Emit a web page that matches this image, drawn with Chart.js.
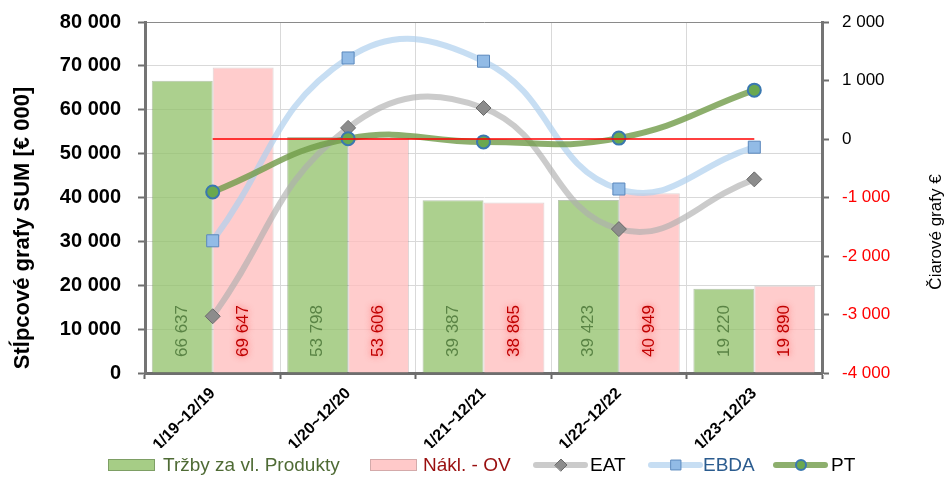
<!DOCTYPE html>
<html><head><meta charset="utf-8">
<script src="https://cdn.jsdelivr.net/npm/chart.js@4"></script>
<style>html,body{margin:0;padding:0;background:#fff;}#wrap{width:948px;height:478px;}</style>
</head><body><div id="wrap"><canvas id="c" width="948" height="478"></canvas></div>
<script>
const categories = ['1/19~12/19','1/20~12/20','1/21~12/21','1/22~12/22','1/23~12/23'];
const trzby  = [66637, 53798, 39387, 39423, 19220];
const naklOV = [69647, 53606, 38865, 40949, 19890];
const eat    = [-3030, 190, 530, -1540, -690];
const ebda   = [-1740, 1385, 1330, -855, -140];
const pt     = [-905, 5, -50, 15, 835];
const zeroLine = [0, 0, 0, 0, 0];
const leftTickValues  = [0, 10000, 20000, 30000, 40000, 50000, 60000, 70000, 80000];
const rightTickValues = [-4000, -3000, -2000, -1000, 0, 1000, 2000];

const FONT = '"Liberation Sans", Arial, sans-serif';
Chart.defaults.font.family = FONT;

function fmt(n){
  const s = Math.abs(Math.round(n)).toString().replace(/\B(?=(\d{3})+(?!\d))/g, '\u00a0');
  return (n < 0 ? '-' : '') + s;
}
function noPad(s){ s.paddingTop = 0; s.paddingBottom = 0; s.paddingLeft = 0; s.paddingRight = 0; }

const legendStyle = [
  {kind:'box', fill:'rgba(144,192,104,0.8)', stroke:'rgba(100,130,80,0.6)', text:'#4f6b35', sx:108, tx:163},
  {kind:'box', fill:'rgba(255,187,187,0.8)', stroke:'rgba(170,140,140,0.5)', text:'#990f0f', sx:370, tx:423},
  {kind:'line', text:'#000000', sx:533, tx:590},
  {kind:'line', text:'#2b5c8f', sx:648, tx:703},
  {kind:'line', text:'#000000', sx:773, tx:831}
];

const extras = {
  id:'extras',
  afterDatasetDraw(chart, args){
    const ds = chart.data.datasets[args.index];
    if (ds.type !== 'bar') return;
    const ctx = chart.ctx;
    const base = chart.scales.y.getPixelForValue(0);
    args.meta.data.forEach((bar, j) => {
      ctx.save();
      ctx.translate(bar.x, base - 16);
      ctx.rotate(-Math.PI/2);
      ctx.font = '17px ' + FONT;
      ctx.textAlign = 'left';
      ctx.textBaseline = 'middle';
      if (args.index === 1) {
        ctx.shadowColor = 'rgba(255,40,40,0.75)';
        ctx.shadowBlur = 6;
        ctx.fillStyle = '#c00000';
      } else {
        ctx.fillStyle = '#5a8445';
      }
      ctx.fillText(fmt(ds.data[j]), 0, 0);
      ctx.restore();
    });
  },
  afterDraw(chart){
    const ctx = chart.ctx;
    // axis titles
    ctx.save();
    ctx.fillStyle = '#000';
    ctx.font = 'bold 22px ' + FONT;
    ctx.translate(23, 228);
    ctx.rotate(-Math.PI/2);
    ctx.textAlign = 'center'; ctx.textBaseline = 'middle';
    ctx.fillText('Stĺpcové grafy SUM [€ 000]', 0, 0);
    ctx.restore();
    ctx.save();
    ctx.fillStyle = '#000';
    ctx.font = '17px ' + FONT;
    ctx.translate(936, 232);
    ctx.rotate(-Math.PI/2);
    ctx.textAlign = 'center'; ctx.textBaseline = 'middle';
    ctx.fillText('Čiarové grafy €', 0, 0);
    ctx.restore();
    // legend
    const y = 465;
    for (let i = 0; i < 5; i++) {
      const ds = chart.data.datasets[i];
      const st = legendStyle[i];
      ctx.save();
      if (st.kind === 'box') {
        ctx.fillStyle = st.fill; ctx.fillRect(st.sx, y - 6, 47, 12);
        ctx.strokeStyle = st.stroke; ctx.lineWidth = 1; ctx.strokeRect(st.sx + 0.5, y - 5.5, 46, 11);
      } else {
        ctx.strokeStyle = ds.borderColor; ctx.lineWidth = 6; ctx.lineCap = 'round';
        ctx.beginPath(); ctx.moveTo(st.sx + 3, y); ctx.lineTo(st.sx + 52, y); ctx.stroke();
        ctx.fillStyle = ds.pointBackgroundColor; ctx.strokeStyle = ds.pointBorderColor; ctx.lineWidth = ds.pointBorderWidth;
        Chart.helpers.drawPoint(ctx, {pointStyle: ds.pointStyle, radius: ds.pointRadius - 1.5, borderWidth: ds.pointBorderWidth, rotation: 0}, st.sx + 28, y);
      }
      ctx.font = '19px ' + FONT;
      ctx.textBaseline = 'middle';
      ctx.fillStyle = st.text;
      ctx.textAlign = 'left';
      ctx.fillText(ds.label, st.tx, y + 1);
      ctx.restore();
    }
  }
};

new Chart(document.getElementById('c'), {
  type: 'bar',
  data: {
    labels: categories,
    datasets: [
      {type:'bar', label:'Tržby za vl. Produkty', data:trzby, yAxisID:'y', order:10,
       backgroundColor:'rgba(144,192,104,0.75)', borderColor:'rgba(100,130,80,0.45)',
       borderWidth:{left:1,right:1,top:1,bottom:0}, categoryPercentage:0.9, barPercentage:1.0},
      {type:'bar', label:'Nákl. - OV', data:naklOV, yAxisID:'y', order:10,
       backgroundColor:'rgba(255,187,187,0.75)', borderColor:'rgba(170,140,140,0.35)',
       borderWidth:{left:1,right:1,top:1,bottom:0}, categoryPercentage:0.9, barPercentage:1.0},
      {type:'line', label:'EAT', data:eat, yAxisID:'y1', order:4, tension:0.45,
       borderColor:'rgba(175,175,175,0.65)', borderWidth:6,
       pointStyle:'rectRot', pointRadius:7.5, pointBackgroundColor:'#8c8c8c', pointBorderColor:'#6a6a6a', pointBorderWidth:1},
      {type:'line', label:'EBDA', data:ebda, yAxisID:'y1', order:3, tension:0.45,
       borderColor:'rgba(175,208,238,0.7)', borderWidth:6,
       pointStyle:'rect', pointRadius:8.5, pointBackgroundColor:'#92bbe6', pointBorderColor:'#5a88bd', pointBorderWidth:1},
      {type:'line', label:'PT', data:pt, yAxisID:'y1', order:2, tension:0.45,
       borderColor:'rgba(112,155,72,0.8)', borderWidth:6,
       pointStyle:'circle', pointRadius:6.5, pointBackgroundColor:'#6aa84f', pointBorderColor:'#3a78b0', pointBorderWidth:2},
      {type:'line', label:'0', data:zeroLine, yAxisID:'y1', order:1, tension:0,
       borderColor:'#ff0000', borderWidth:1.5, pointRadius:0}
    ]
  },
  options: {
    responsive:false, animation:false,
    layout:{padding:{top:22, bottom:30, left:0, right:0}},
    plugins:{legend:{display:false}, tooltip:{enabled:false}},
    scales:{
      x:{
        afterFit(s){ s.height = 75; noPad(s); },
        grid:{color:'#d9d9d9', tickLength:6, tickColor:'#666', tickWidth:2},
        border:{color:'#6e6e6e', width:3},
        ticks:{color:'#000', font:{size:16, weight:'bold'}, minRotation:45, maxRotation:45, padding:5, autoSkip:false}
      },
      y:{
        position:'left', min:0, max:80000,
        afterFit(s){ s.width = 145; noPad(s); },
        afterBuildTicks(s){ s.ticks = leftTickValues.map(v => ({value:v})); },
        grid:{color:(c)=> c.tick && c.tick.value === 80000 ? '#8a8a8a' : '#d9d9d9', tickLength:7, tickColor:'#6e6e6e', tickWidth:2},
        border:{color:'#747474', width:3},
        ticks:{color:'#000', font:{size:20, weight:'bold'}, padding:17, callback:(v)=>fmt(v)}
      },
      y1:{
        position:'right', min:-4000, max:2000,
        afterFit(s){ s.width = 126; noPad(s); },
        afterBuildTicks(s){ s.ticks = rightTickValues.map(v => ({value:v})); },
        grid:{drawOnChartArea:false, tickLength:7, tickColor:'#6e6e6e', tickWidth:2},
        border:{color:'#747474', width:3},
        ticks:{color:(c)=> c.tick && c.tick.value < 0 ? '#ff0000' : '#000', font:{size:17}, padding:13, callback:(v)=>fmt(v)}
      }
    }
  },
  plugins:[extras]
});
</script></body></html>
